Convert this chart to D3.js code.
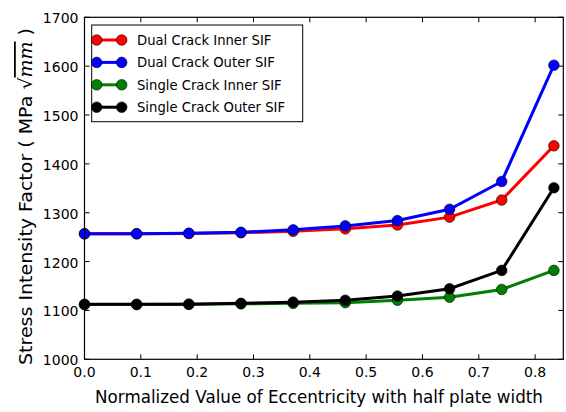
<!DOCTYPE html>
<html>
<head>
<meta charset="utf-8">
<script src="https://cdn.jsdelivr.net/npm/d3@7"></script>
<style>
body { margin: 0; background: #fff; }
text { font-family: "DejaVu Sans", sans-serif; }
</style>
</head>
<body>
<div id="chart"></div>
<script>
// data
var ecc = [0, 0.0926, 0.1852, 0.2778, 0.3704, 0.463, 0.5556, 0.6481, 0.7407, 0.8333];
var dualInner = [1257, 1257, 1257.5, 1259, 1262, 1267, 1275, 1291, 1326, 1437];
var dualOuter = [1257, 1257, 1258, 1260, 1265, 1273, 1284, 1307, 1364, 1602];
var singleInner = [1112, 1112, 1112.5, 1113.5, 1114.5, 1116, 1121, 1127, 1143, 1182];
var singleOuter = [1112.5, 1112.5, 1112.8, 1114.5, 1117, 1121, 1129.5, 1144.5, 1182, 1351];
var seriesNames = ["Dual Crack Inner SIF", "Dual Crack Outer SIF", "Single Crack Inner SIF", "Single Crack Outer SIF"];
var seriesColors = ["#ff0000", "#0000ff", "#008000", "#000000"];
var xTicks = [0, 0.1, 0.2, 0.3, 0.4, 0.5, 0.6, 0.7, 0.8];
var yTicks = [1000, 1100, 1200, 1300, 1400, 1500, 1600, 1700];

var series = [dualInner, dualOuter, singleInner, singleOuter];

var W = 566, H = 412;
var L = 84.5, R = 563.3, T = 17.3, B = 359.3;

var svg = d3.select("#chart").append("svg")
    .attr("width", W).attr("height", H);

var x = d3.scaleLinear().domain([0, 0.85]).range([L, R]);
var y = d3.scaleLinear().domain([1000, 1700]).range([B, T]);

// ticks inside, on all four sides
var tickLen = 5;
var g = svg.append("g");
xTicks.forEach(function(t) {
    g.append("line").attr("x1", x(t)).attr("x2", x(t)).attr("y1", B).attr("y2", B - tickLen)
        .attr("stroke", "#000").attr("stroke-width", 1);
    g.append("line").attr("x1", x(t)).attr("x2", x(t)).attr("y1", T).attr("y2", T + tickLen)
        .attr("stroke", "#000").attr("stroke-width", 1);
    g.append("text").attr("x", x(t)).attr("y", B + 18)
        .attr("text-anchor", "middle").attr("font-size", 14)
        .text(d3.format(".1f")(t));
});
yTicks.forEach(function(t) {
    g.append("line").attr("x1", L).attr("x2", L + tickLen).attr("y1", y(t)).attr("y2", y(t))
        .attr("stroke", "#000").attr("stroke-width", 1);
    g.append("line").attr("x1", R).attr("x2", R - tickLen).attr("y1", y(t)).attr("y2", y(t))
        .attr("stroke", "#000").attr("stroke-width", 1);
    g.append("text").attr("x", L - 6).attr("y", y(t) + 6)
        .attr("text-anchor", "end").attr("font-size", 14)
        .text(t);
});

// series
var line = d3.line().x(function(d, i) { return x(ecc[i]); }).y(function(d) { return y(d); });
series.forEach(function(s, k) {
    svg.append("path").datum(s).attr("d", line)
        .attr("fill", "none").attr("stroke", seriesColors[k]).attr("stroke-width", 3);
    svg.selectAll(".pt" + k).data(s).enter().append("circle")
        .attr("cx", function(d, i) { return x(ecc[i]); })
        .attr("cy", function(d) { return y(d); })
        .attr("r", 5.3)
        .attr("fill", seriesColors[k]).attr("stroke", "#000").attr("stroke-width", 0.6);
});

// frame
svg.append("rect").attr("x", L).attr("y", T).attr("width", R - L).attr("height", B - T)
    .attr("fill", "none").attr("stroke", "#000").attr("stroke-width", 1.2);

// legend
var lg = svg.append("g");
lg.append("rect").attr("x", 91.7).attr("y", 25).attr("width", 211).attr("height", 96.7)
    .attr("fill", "#fff").attr("stroke", "#000").attr("stroke-width", 1);
seriesNames.forEach(function(n, k) {
    var yy = 40 + k * 22.4;
    lg.append("line").attr("x1", 96.7).attr("x2", 121.7).attr("y1", yy).attr("y2", yy)
        .attr("stroke", seriesColors[k]).attr("stroke-width", 3);
    [96.7, 121.7].forEach(function(cx) {
        lg.append("circle").attr("cx", cx).attr("cy", yy).attr("r", 5.3)
            .attr("fill", seriesColors[k]).attr("stroke", "#000").attr("stroke-width", 0.6);
    });
    lg.append("text").attr("x", 137).attr("y", yy + 5).attr("font-size", 13.2).text(n);
});

// axis labels (the source squeezes them sideways, so scale to the measured width)
var xl = svg.append("text").attr("x", 0).attr("y", 0)
    .attr("text-anchor", "middle").attr("font-size", 18)
    .text("Normalized Value of Eccentricity with half plate width");
var sx = 448 / xl.node().getComputedTextLength();
xl.attr("transform", "translate(319,403) scale(" + sx + ",1)");

var yl = svg.append("text")
    .attr("text-anchor", "middle").attr("font-size", 18);
yl.append("tspan").text("Stress Intensity Factor ( MPa ");
yl.append("tspan").text("\u221A");
yl.append("tspan").attr("font-style", "italic").attr("font-family", "DejaVu Serif")
    .attr("text-decoration", "overline").text("mm");
yl.append("tspan").text(" )");
var sy = 337 / yl.node().getComputedTextLength();
yl.attr("transform", "translate(31.5,196.5) rotate(-90) scale(" + sy + ",1)");
</script>
</body>
</html>
